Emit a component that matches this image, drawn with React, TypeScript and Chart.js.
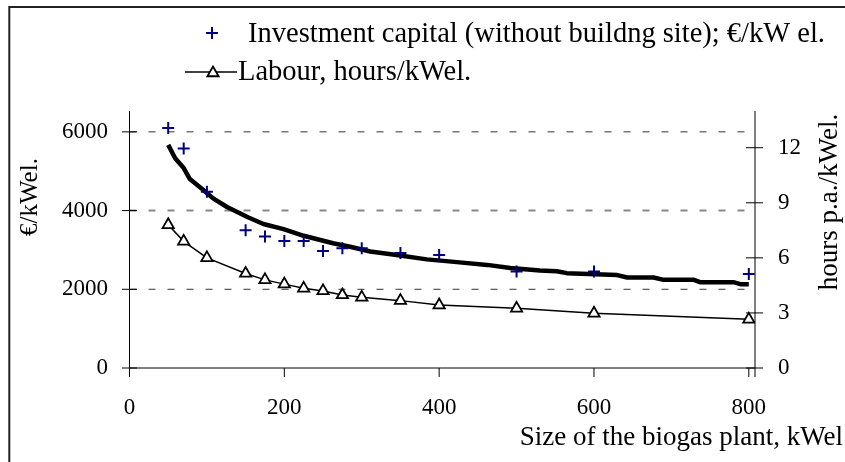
import React, { useEffect, useRef } from "react";
import { Chart, registerables } from "chart.js";

Chart.register(...registerables);

// ---- data ----
const plantSizes = [50, 70, 100, 150, 175, 200, 225, 250, 275, 300, 350, 400, 500, 600, 800];
const investmentCapital = [6100, 5580, 4480, 3500, 3340, 3230, 3230, 2975, 3040, 3040, 2920, 2870, 2450, 2450, 2390];
const labourHours = [7.8, 6.9, 6.0, 5.15, 4.8, 4.57, 4.34, 4.2, 3.98, 3.85, 3.67, 3.43, 3.25, 2.98, 2.65];

const curveSizes = [50, 59, 70, 78, 95, 108, 126, 153, 173, 199, 225, 263, 285, 311, 345, 384, 423, 462, 492, 530, 552, 565, 630, 643, 677, 690, 729, 737, 780, 789, 800];
const curveValues = [5670, 5330, 5080, 4800, 4530, 4310, 4090, 3830, 3660, 3530, 3360, 3170, 3080, 2960, 2870, 2760, 2690, 2620, 2540, 2480, 2460, 2410, 2360, 2300, 2300, 2240, 2240, 2180, 2180, 2130, 2130];

const xTicks = [0, 200, 400, 600, 800];
const leftTicks = [0, 2000, 4000, 6000];
const rightTicks = [0, 3, 6, 9, 12];

const legendInvestment = "Investment capital (without buildng site); €/kW el.";
const legendLabour = "Labour, hours/kWel.";
const leftTitle = "€/kWel.";
const rightTitle = "hours p.a./kWel.";
const xTitle = "Size of the biogas plant, kWel";

const SERIF = "'Liberation Serif', 'Times New Roman', serif";
const NAVY = "#000080";

function drawTriangle(ctx: CanvasRenderingContext2D, x: number, y: number, r: number) {
  ctx.beginPath();
  ctx.moveTo(x, y - r);
  ctx.lineTo(x + r * Math.sin(Math.PI / 3), y + r / 2);
  ctx.lineTo(x - r * Math.sin(Math.PI / 3), y + r / 2);
  ctx.closePath();
  ctx.fillStyle = "#fff";
  ctx.fill();
  ctx.stroke();
}

const decor = {
  id: "decor",
  beforeDatasetsDraw(chart: any) {
    const { ctx, chartArea: a, scales } = chart;
    const y = scales.y;
    const y1 = scales.y1;
    const x = scales.x;
    ctx.save();
    // dashed grid lines
    ctx.setLineDash([7, 12]);
    leftTicks.forEach((v) => {
      if (v === 0) return;
      const py = y.getPixelForValue(v);
      if (v === 4000) {
        ctx.strokeStyle = "#888";
        ctx.lineWidth = 2;
      } else {
        ctx.strokeStyle = "#333";
        ctx.lineWidth = 1;
      }
      ctx.beginPath();
      ctx.moveTo(a.left, py);
      ctx.lineTo(a.right, py);
      ctx.stroke();
    });
    ctx.setLineDash([]);
    ctx.strokeStyle = "#000";
    ctx.lineWidth = 1;
    // axis lines
    ctx.beginPath();
    ctx.moveTo(a.left, a.top);
    ctx.lineTo(a.left, a.bottom);
    ctx.moveTo(a.left, a.bottom);
    ctx.lineTo(a.right, a.bottom);
    ctx.moveTo(a.right, a.top);
    ctx.lineTo(a.right, a.bottom + 9);
    ctx.stroke();
    // tick marks
    ctx.beginPath();
    leftTicks.forEach((v) => {
      const py = y.getPixelForValue(v);
      ctx.moveTo(a.left - 7.5, py);
      ctx.lineTo(a.left + 7.5, py);
    });
    rightTicks.forEach((v) => {
      const py = y1.getPixelForValue(v);
      ctx.moveTo(a.right - 9, py);
      ctx.lineTo(a.right + 8, py);
    });
    xTicks.forEach((v) => {
      const px = x.getPixelForValue(v);
      ctx.moveTo(px, a.bottom);
      ctx.lineTo(px, a.bottom + 9);
    });
    ctx.stroke();
    ctx.restore();
  },
  afterDraw(chart: any) {
    const { ctx } = chart;
    ctx.save();
    // outer frame
    ctx.strokeStyle = "#222";
    ctx.lineWidth = 2;
    ctx.strokeRect(9.3, 7, 1000, 1000);

    ctx.fillStyle = "#000";
    // axis titles
    ctx.font = `25px ${SERIF}`;
    ctx.textAlign = "center";
    ctx.textBaseline = "middle";
    ctx.save();
    ctx.translate(30, 197);
    ctx.rotate(-Math.PI / 2);
    ctx.fillText(leftTitle, 0, 0);
    ctx.restore();
    ctx.font = `27px ${SERIF}`;
    ctx.save();
    ctx.translate(830, 202);
    ctx.rotate(-Math.PI / 2);
    ctx.fillText(rightTitle, 0, 0);
    ctx.restore();
    ctx.textAlign = "right";
    ctx.fillText(xTitle, 843, 438);

    // legend
    ctx.font = `28.5px ${SERIF}`;
    ctx.textAlign = "left";
    ctx.textBaseline = "middle";
    // row 1: navy cross
    ctx.strokeStyle = NAVY;
    ctx.lineWidth = 2;
    ctx.beginPath();
    ctx.moveTo(206, 33);
    ctx.lineTo(218, 33);
    ctx.moveTo(212, 27);
    ctx.lineTo(212, 39);
    ctx.stroke();
    ctx.fillStyle = "#000";
    ctx.fillText(legendInvestment, 248, 35);
    // row 2: line + triangle
    ctx.strokeStyle = "#000";
    ctx.lineWidth = 1.5;
    ctx.beginPath();
    ctx.moveTo(185, 72);
    ctx.lineTo(237, 72);
    ctx.stroke();
    ctx.lineWidth = 1.8;
    drawTriangle(ctx, 213, 73, 6.5);
    ctx.fillStyle = "#000";
    ctx.fillText(legendLabour, 238, 73);
    ctx.restore();
  },
};

export default function App() {
  const canvasRef = useRef<HTMLCanvasElement | null>(null);

  useEffect(() => {
    document.body.style.margin = "0";
    const canvas = canvasRef.current;
    if (!canvas) return;

    const chart = new Chart(canvas, {
      type: "scatter",
      data: {
        datasets: [
          {
            label: legendInvestment,
            data: plantSizes.map((s, i) => ({ x: s, y: investmentCapital[i] })),
            yAxisID: "y",
            showLine: false,
            pointStyle: "cross",
            pointRadius: 6,
            pointHoverRadius: 6,
            borderColor: NAVY,
            backgroundColor: NAVY,
            borderWidth: 2,
          },
          {
            label: "trend",
            data: curveSizes.map((s, i) => ({ x: s, y: curveValues[i] })),
            yAxisID: "y",
            showLine: true,
            borderColor: "#000",
            borderWidth: 4.5,
            pointRadius: 0,
            pointHoverRadius: 0,
            tension: 0,
            borderJoinStyle: "round",
          },
          {
            label: legendLabour,
            data: plantSizes.map((s, i) => ({ x: s, y: labourHours[i] })),
            yAxisID: "y1",
            showLine: true,
            borderColor: "#000",
            borderWidth: 1.5,
            pointStyle: "triangle",
            pointRadius: 6.5,
            pointHoverRadius: 6.5,
            pointBackgroundColor: "#fff",
            pointBorderColor: "#000",
            pointBorderWidth: 1.8,
            tension: 0,
          },
        ],
      },
      options: {
        animation: false,
        responsive: false,
        devicePixelRatio: 1,
        events: [],
        layout: { padding: { top: 111, left: 0, right: 0, bottom: 0 } },
        plugins: {
          legend: { display: false },
          tooltip: { enabled: false },
        },
        scales: {
          x: {
            type: "linear",
            position: "bottom",
            min: 0,
            max: 808,
            afterBuildTicks: (s: any) => {
              s.ticks = xTicks.map((v) => ({ value: v }));
            },
            afterFit: (s: any) => {
              s.height = 94;
            },
            grid: { display: false, drawTicks: false },
            border: { display: false },
            ticks: {
              color: "#000",
              font: { family: SERIF, size: 23 },
              padding: 26,
              maxRotation: 0,
              callback: (v: any) => String(v),
            },
          },
          y: {
            type: "linear",
            position: "left",
            min: 0,
            max: 6530,
            afterBuildTicks: (s: any) => {
              s.ticks = leftTicks.map((v) => ({ value: v }));
            },
            afterFit: (s: any) => {
              s.width = 129.5;
            },
            grid: { display: false, drawTicks: false },
            border: { display: false },
            ticks: {
              color: "#000",
              font: { family: SERIF, size: 23 },
              padding: 21.5,
              callback: (v: any) => String(v),
            },
          },
          y1: {
            type: "linear",
            position: "right",
            min: 0,
            max: 14,
            afterBuildTicks: (s: any) => {
              s.ticks = rightTicks.map((v) => ({ value: v }));
            },
            afterFit: (s: any) => {
              s.width = 90;
            },
            grid: { display: false, drawTicks: false },
            border: { display: false },
            ticks: {
              color: "#000",
              font: { family: SERIF, size: 23 },
              padding: 23,
              callback: (v: any) => String(v),
            },
          },
        },
      },
      plugins: [decor],
    });

    return () => chart.destroy();
  }, []);

  return (
    <div style={{ width: 845, height: 462, background: "#fff" }}>
      <canvas ref={canvasRef} width={845} height={462} />
    </div>
  );
}
